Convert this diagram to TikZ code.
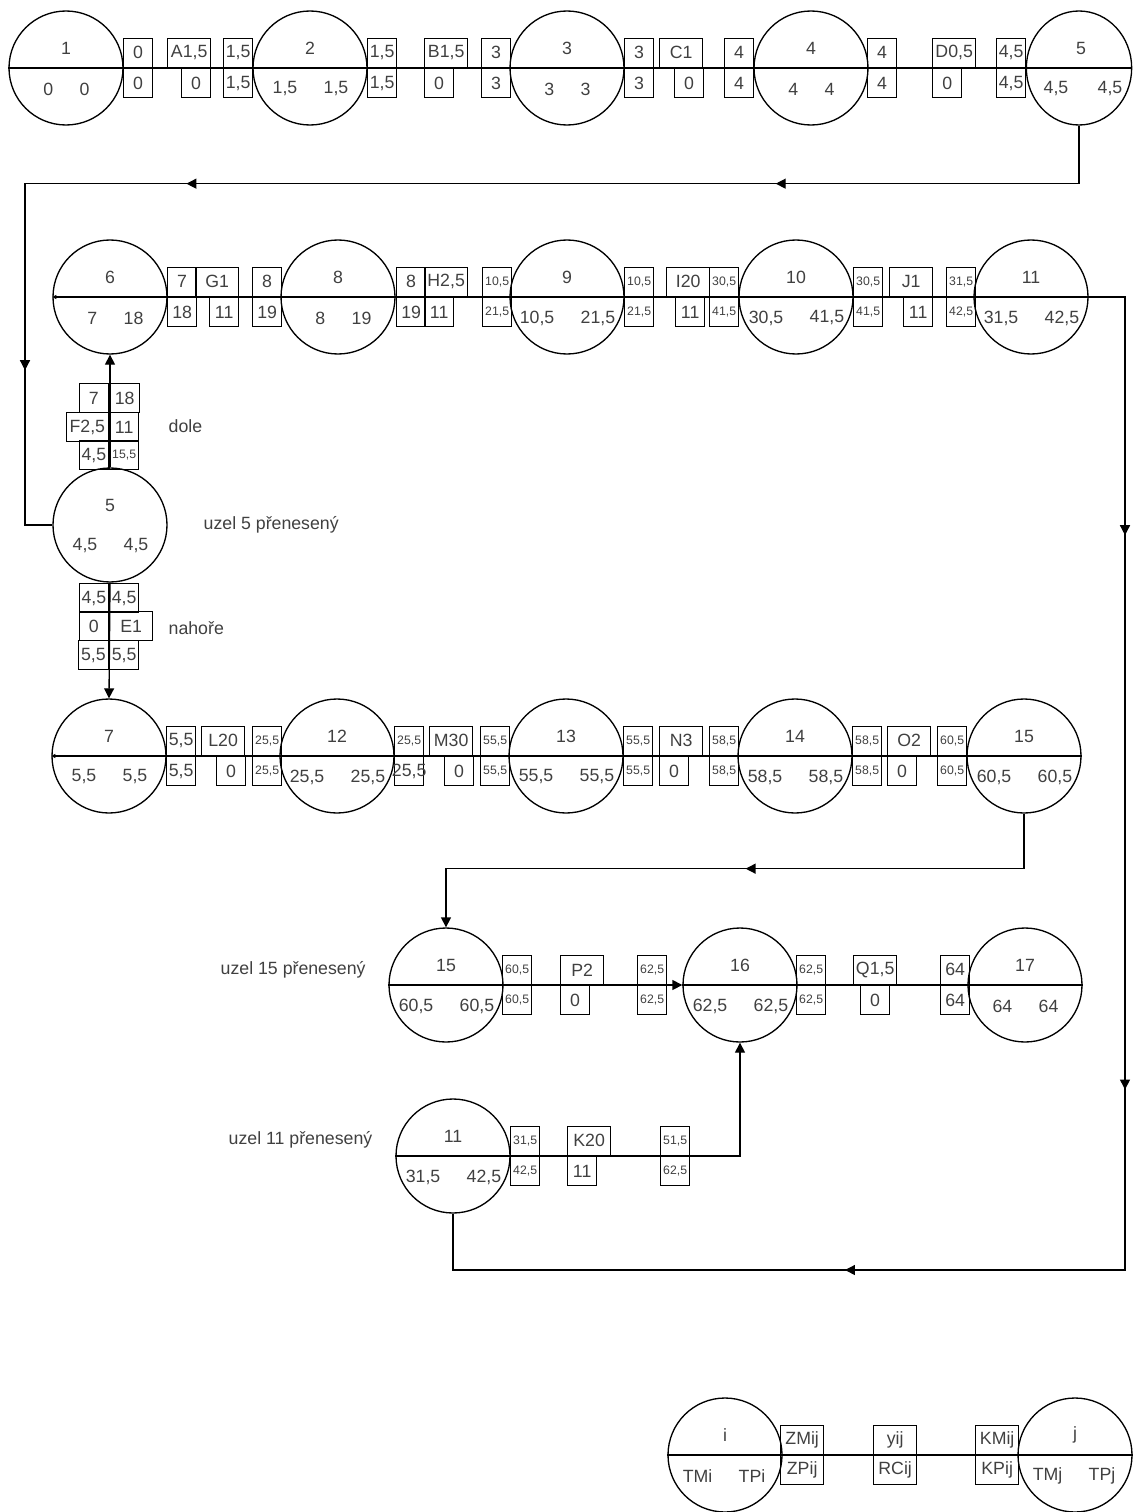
\documentclass[tikz,border=0pt]{standalone}
\usepackage{fontspec}
\setmainfont{Liberation Sans}
\usetikzlibrary{arrows.meta,shapes.geometric,decorations.markings}

\tikzset{every picture/.style={line width=1pt}}
\tikzset{
  evt/.style={draw, circle, minimum size=85.5pt, inner sep=0pt},
  lbl/.style={inner sep=0pt, text=black!75, font=\fontsize{13.3}{15}\selectfont},
  cell/.style={draw, minimum width=21.75pt, minimum height=21.75pt, inner sep=0pt, text=black!75, font=\fontsize{13.3}{15}\selectfont},
  actcell/.style={cell, minimum width=32.25pt},
  tinycell/.style={cell, font=\fontsize{9.2}{10}\selectfont},
  tip/.style={-{Triangle[length=7.5pt,width=7.5pt]}},
  smalltip/.style={{Triangle[length=3pt,width=3pt]}-},
  flowtip/.style={postaction={decorate, decoration={markings, mark=at position #1 with {\arrow{Triangle[length=7.5pt,width=7.5pt]}}}}},
}

% event: name, x, y, number, TM, TP
\newcommand{\evnode}[6]{%
  \node[evt] (#1) at (#2,#3) {};
  \node[lbl] (#1-no) at (#2,#3-20) {#4};
  \node[lbl, anchor=east] (#1-tm) at (#2-12,#3+21) {#5};
  \node[lbl, anchor=west] (#1-tp) at (#2+13,#3+21) {#6};
}
% two cells above and below the line: [style] name, x, y, top, bottom
\newcommand{\cellpair}[6][cell]{%
  \node[#1, anchor=south west] (#2-t) at (#3,#4) {#5};
  \node[#1, anchor=north west] (#2-b) at (#3,#4) {#6};
}
% activity: name, x top, x bottom, y, activity, reserve
\newcommand{\actpair}[6]{%
  \node[actcell, anchor=south west] (#1-t) at (#2,#4) {#5};
  \node[cell, anchor=north west] (#1-b) at (#3,#4) {#6};
}

\begin{document}
\begin{tikzpicture}[x=0.75pt,y=0.75pt,yscale=-1,xscale=1]
\useasboundingbox (0,0) rectangle (1136,1512);

%Row 1
\evnode{c1}{66}{68}{1}{0}{0}
\cellpair{r1a}{123}{68}{0}{0}
\actpair{A}{167}{181}{68}{A1,5}{0}
\cellpair{r1b}{223}{68}{1,5}{1,5}
\evnode{c2}{310}{68}{2}{1,5}{1,5}
\cellpair{r1c}{367}{68}{1,5}{1,5}
\actpair{B}{424}{424}{68}{B1,5}{0}
\cellpair{r1d}{481}{68}{3}{3}
\evnode{c3}{567}{68}{3}{3}{3}
\cellpair{r1e}{624}{68}{3}{3}
\actpair{C}{659}{674}{68}{C1}{0}
\cellpair{r1f}{724}{68}{4}{4}
\evnode{c4}{811}{68}{4}{4}{4}
\cellpair{r1g}{867}{68}{4}{4}
\actpair{D}{932}{932}{68}{D0,5}{0}
\cellpair{r1h}{996}{68}{4,5}{4,5}
%Shape: Ellipse (node 5, cut at the edge)
\node[evt, ellipse, minimum width=79pt] (c5) at (1079,68) {};
\node[lbl] (c5-no) at (1081,48) {5};
\node[lbl, anchor=east] (c5-tm) at (1069,89) {4,5};
\node[lbl, anchor=west] (c5-tp) at (1097,89) {4,5};

%Row 2
\evnode{c6}{110}{297}{6}{7}{18}
\cellpair{r2a}{167}{297}{7}{18}
\actpair{G}{195}{209}{297}{G1}{11}
\cellpair{r2b}{252}{297}{8}{19}
\evnode{c8}{338}{297}{8}{8}{19}
\cellpair{r2c}{396}{297}{8}{19}
\actpair{H}{424}{424}{297}{H2,5}{11}
\cellpair[tinycell]{r2d}{482}{297}{10,5}{21,5}
\evnode{c9}{567}{297}{9}{10,5}{21,5}
\cellpair[tinycell]{r2e}{624}{297}{10,5}{21,5}
\actpair{I}{666}{675}{297}{I20}{11}
\cellpair[tinycell]{r2f}{709}{297}{30,5}{41,5}
\evnode{c10}{796}{297}{10}{30,5}{41,5}
\cellpair[tinycell]{r2g}{853}{297}{30,5}{41,5}
\actpair{J}{889}{903}{297}{J1}{11}
\cellpair[tinycell]{r2h}{946}{297}{31,5}{42,5}
\evnode{c11}{1031}{297}{11}{31,5}{42,5}

%Node 5 carried over, with F and E
\evnode{c5b}{110}{525}{5}{4,5}{4,5}
\node[cell, anchor=north east] (s1) at (109,383) {7};
\node[cell, anchor=north west, minimum width=22.5pt] (s2) at (109,383) {18};
\node[actcell, anchor=north east, minimum width=31.5pt] (s3) at (109,412) {F2,5};
\node[cell, anchor=north west] (s4) at (109,412) {11};
\node[cell, anchor=north east] (s5) at (109,440) {4,5};
\node[tinycell, anchor=north west] (s6) at (109,440) {15,5};
\node[cell, anchor=north east] (s7) at (109,583) {4,5};
\node[cell, anchor=north west] (s8) at (109,583) {4,5};
\node[cell, anchor=north east] (s9) at (109,611) {0};
\node[actcell, anchor=north west] (s10) at (109,611) {E1};
\node[cell, anchor=north east, minimum width=22.5pt] (s11) at (109,640) {5,5};
\node[cell, anchor=north west] (s12) at (109,640) {5,5};
% Text Node
\node[lbl, anchor=west] (tdole) at (168,426) {dole};
\node[lbl, anchor=west] (tuzel5) at (203,525) {uzel 5 přenesený};
\node[lbl, anchor=west] (tnahore) at (168,628) {nahoře};

%Row 3
\evnode{c7}{109}{756}{7}{5,5}{5,5}
\cellpair{r3a}{166}{756}{5,5}{5,5}
\actpair{L}{201}{216}{756}{L20}{0}
\cellpair[tinycell]{r3b}{252}{756}{25,5}{25,5}
\evnode{c12}{337}{756}{12}{25,5}{25,5}
\node[tinycell, anchor=south west] (r3c-t) at (394,756) {25,5};
\node[cell, anchor=north west] (r3c-b) at (394,756) {\makebox[0pt]{25,5}};
\actpair{M}{429}{444}{756}{M30}{0}
\cellpair[tinycell]{r3d}{480}{756}{55,5}{55,5}
\evnode{c13}{566}{756}{13}{55,5}{55,5}
\cellpair[tinycell]{r3e}{623}{756}{55,5}{55,5}
\actpair{N}{659}{659}{756}{N3}{0}
\cellpair[tinycell]{r3f}{709}{756}{58,5}{58,5}
\evnode{c14}{795}{756}{14}{58,5}{58,5}
\cellpair[tinycell]{r3g}{852}{756}{58,5}{58,5}
\actpair{O}{887}{887}{756}{O2}{0}
\cellpair[tinycell]{r3h}{937}{756}{60,5}{60,5}
\evnode{c15}{1024}{756}{15}{60,5}{60,5}

%Row 4
\evnode{c15b}{446}{985}{15}{60,5}{60,5}
\cellpair[tinycell]{r4a}{502}{985}{60,5}{60,5}
\actpair{P}{560}{560}{985}{P2}{0}
\cellpair[tinycell]{r4b}{637}{985}{62,5}{62,5}
\evnode{c16}{740}{985}{16}{62,5}{62,5}
\cellpair[tinycell]{r4c}{796}{985}{62,5}{62,5}
\actpair{Q}{853}{860}{985}{Q1,5}{0}
\cellpair{r4d}{940}{985}{64}{64}
\evnode{c17}{1025}{985}{17}{64}{64}
\node[lbl, anchor=west] (tuzel15) at (220,970) {uzel 15 přenesený};

%Row 5
\evnode{c11b}{453}{1156}{11}{31,5}{42,5}
\cellpair[tinycell]{r5a}{510}{1156}{31,5}{42,5}
\actpair{K}{567}{567}{1156}{K20}{11}
\cellpair[tinycell]{r5b}{660}{1156}{51,5}{62,5}
\node[lbl, anchor=west] (tuzel11) at (228,1140) {uzel 11 přenesený};

%Legend
\evnode{ci}{725}{1455}{i}{TMi}{TPi}
\cellpair[actcell]{lg1}{780}{1455}{ZMij}{ZPij}
\cellpair[actcell]{lg2}{873}{1455}{yij}{RCij}
\cellpair[actcell]{lg3}{975}{1455}{KMij}{KPij}
\evnode{cj}{1075}{1455}{j}{TMj}{TPj}

%Straight Lines
\draw (c1.west) -- (c5.east);
\draw[smalltip] (c6.west) -- (c11.east);
\draw[smalltip] (c7.west) -- (c15.east);
\draw[smalltip, tip] (c15b.west) -- (c16.west);
\draw (c16.west) -- (c17.east);
\draw (ci.west) -- (cj.east);
\draw[tip] (c5b.north) -- (c6.south);
\draw[tip] (c5b.south) -- (c7.north);
%Connectors between the rows
\draw[flowtip=0.244, flowtip=0.642, flowtip=0.877] (c5.south) -- ++(0,58) -| (25,525) -- (c5b.west);
\draw[flowtip=0.158, flowtip=0.477, flowtip=0.742] (c11.east) -| (1125,1270) -| (c11b.south);
\draw[tip, flowtip=0.482] (c15.south) -- ++(0,55) -| (c15b.north);
\draw[smalltip, tip] (c11b.west) -| (c16.south);

\end{tikzpicture}
\end{document}
